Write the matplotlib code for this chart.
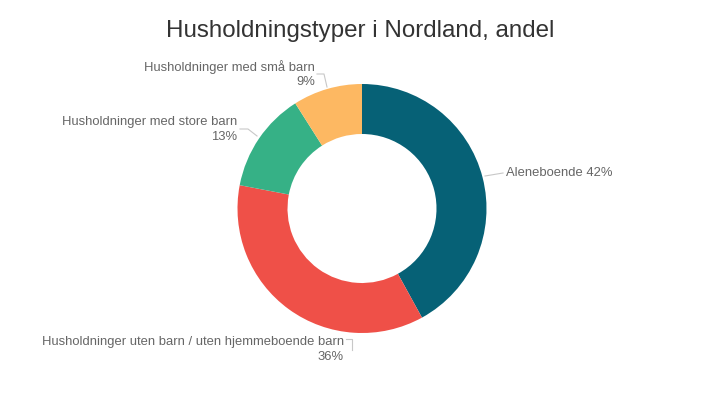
import matplotlib
matplotlib.use("Agg")
import matplotlib.pyplot as plt

# Household shares in Nordland (percent), clockwise from 12 o'clock
categories = [
    "Aleneboende",
    "Husholdninger uten barn / uten hjemmeboende barn",
    "Husholdninger med store barn",
    "Husholdninger med små barn",
]
shares = [42, 36, 13, 9]
colors = ["#066176", "#ef5048", "#36b186", "#fdb862"]

W, H = 720, 405
plt.rcParams["font.family"] = ["Liberation Sans", "DejaVu Sans"]

fig = plt.figure(figsize=(W / 100, H / 100), dpi=100)
ax = fig.add_axes([0, 0, 1, 1])


def px(x, y):
    """Convert top-left pixel coordinates to data coordinates."""
    return x, H - y


cx, cy = px(362, 208.5)
radius = 124.5
ring = 50

ax.pie(
    shares,
    colors=colors,
    startangle=90,
    counterclock=False,
    radius=radius,
    center=(cx, cy),
    frame=True,
    wedgeprops=dict(width=ring, linewidth=0),
)
ax.set_xlim(0, W)
ax.set_ylim(0, H)
ax.set_aspect("equal")
ax.axis("off")

label_color = "#666666"
line_color = "#c8c8c8"
fs = 9.4

# Title
ax.text(*px(360.5, 31), "Husholdningstyper i Nordland, andel",
        ha="center", va="center", fontsize=17.4, color="#333333")

# Aleneboende
ax.plot(*zip(px(485, 176), px(503, 173)), color=line_color, lw=0.8)
ax.text(*px(506, 173), f"{categories[0]} {shares[0]}%",
        ha="left", va="center", fontsize=fs, color=label_color)

# Uten barn
ax.plot(*zip(px(346, 339), px(352, 339), px(352, 350)), color=line_color, lw=0.8)
ax.text(*px(344, 342), categories[1],
        ha="right", va="center", fontsize=fs, color=label_color)
ax.text(*px(344, 357), f"{shares[1]}%",
        ha="right", va="center", fontsize=fs, color=label_color)

# Store barn
ax.plot(*zip(px(240, 129), px(248, 129), px(257, 136)), color=line_color, lw=0.8)
ax.text(*px(237, 121.5), categories[2],
        ha="right", va="center", fontsize=fs, color=label_color)
ax.text(*px(237, 137), f"{shares[2]}%",
        ha="right", va="center", fontsize=fs, color=label_color)

# Små barn
ax.plot(*zip(px(317, 74), px(324, 74), px(327, 87)), color=line_color, lw=0.8)
ax.text(*px(315, 67), categories[3],
        ha="right", va="center", fontsize=fs, color=label_color)
ax.text(*px(315, 82), f"{shares[3]}%",
        ha="right", va="center", fontsize=fs, color=label_color)

fig.savefig("out.png", dpi=100, facecolor="white")
